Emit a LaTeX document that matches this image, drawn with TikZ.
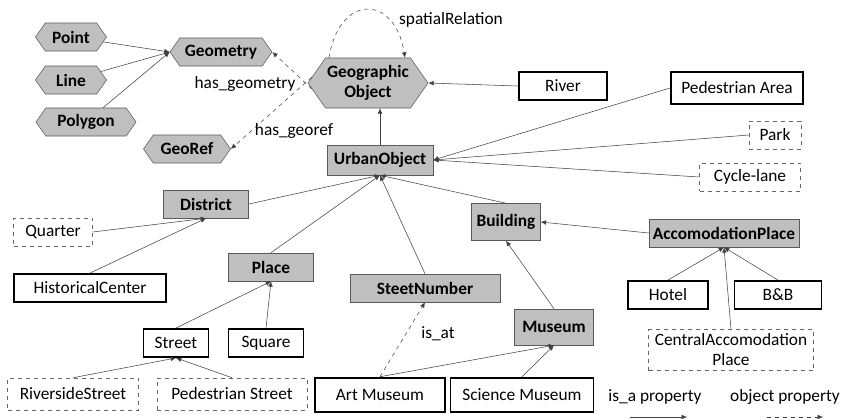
\documentclass[tikz,border=0pt]{standalone}
\usepackage{fontspec}
\setmainfont{Carlito}
\usetikzlibrary{shapes.symbols,arrows.meta,calc}
\begin{document}
\fontsize{13}{15}\selectfont
\begin{tikzpicture}[x=0.75pt,y=-0.75pt,
    cls/.style={draw=gray!70!black,fill=gray!50,font=\bfseries,inner sep=1pt,minimum height=21pt},
    hexa/.style={cls,signal,signal to=west and east,signal pointer angle=110},
    inst/.style={draw,line width=1.4pt,fill=white,inner sep=1pt,minimum height=21pt},
    ext/.style={draw=gray!80!black,dashed,inner sep=1pt,minimum height=21pt},
    w/.style={minimum width=#1*0.75pt},
    isa/.style={draw=black!75,-{Latex[length=4pt,width=3.5pt]}},
    objp/.style={isa,dashed},
    lbl/.style={inner sep=0pt}]
    \useasboundingbox (0,0) rectangle (844,419);
    % geometry part
    \node[hexa,w=71] (point) at (71,37) {Point};
    \node[hexa,w=71] (line) at (71,80) {Line};
    \node[hexa,w=100] (polygon) at (86,122) {Polygon};
    \node[hexa,w=102] (geometry) at (221,52) {Geometry};
    \node[hexa,w=87] (georef) at (187,149) {GeoRef};
    \node[hexa,w=120,minimum height=37.5pt,align=center] (geo) at (368,83) {Geographic\\Object};
    \draw[isa] (point) -- (geometry.west);
    \draw[isa] (line) -- (geometry.west);
    \draw[isa] (polygon) -- (geometry.west);
    \draw[objp] (geo.186) -- (geometry.east);
    \draw[objp] (geo.174) -- (georef.east);
    \draw[objp] ($(geo.north)+(-39,0)$) .. controls +(10,-64) and +(-10,-64) .. ($(geo.north)+(37,0)$);
    \node[lbl] (hasgeom) at (245,84) {has\_geometry};
    \node[lbl] (hasgeoref) at (294,131) {has\_georef};
    \node[lbl] (spatial) at (451,20) {spatialRelation};
    % urban objects
    \node[inst,w=88] (river) at (563,86) {River};
    \node[cls,w=106,minimum height=22.5pt] (urban) at (380,160) {UrbanObject};
    \node[inst,w=132,minimum height=24pt] (pedarea) at (737,88) {Pedestrian Area};
    \node[ext,w=52] (park) at (775,135) {Park};
    \node[ext,w=101] (cycle) at (750,177) {Cycle-lane};
    \draw[isa] (river.west) -- (geo.east);
    \draw[isa] (urban.north) -- (urban.north |- geo.south);
    \draw[isa] (pedarea.west) -- (urban.east);
    \draw[isa] (park.west) -- (urban.east);
    \draw[isa] (cycle.west) -- (urban.east);
    % districts and places
    \node[cls,w=85] (district) at (206,204) {District};
    \node[ext,w=79] (quarter) at (53,232) {Quarter};
    \node[inst,w=152] (historic) at (90,288) {HistoricalCenter};
    \node[cls,w=85] (place) at (271,267) {Place};
    \node[inst,w=65] (street) at (176,343) {Street};
    \node[inst,w=75] (square) at (266,343) {Square};
    \node[ext,w=131,minimum height=24pt] (riverside) at (73,394) {RiversideStreet};
    \node[ext,w=150,minimum height=24pt] (pedstreet) at (232,394) {Pedestrian Street};
    \draw[isa] (district.east) -- (urban.south);
    \draw[isa] (place.north) -- (urban.south);
    \draw[isa] (quarter.east) -- (district.south);
    \draw[isa] (historic.north) -- (district.south);
    \draw[isa] (street.north) -- (place.south);
    \draw[isa] (square.north) -- (place.south);
    \draw[isa] (riverside.north) -- (street.south);
    \draw[isa] (pedstreet.north) -- (street.south);
    % buildings
    \node[cls,w=150] (stnum) at (425,288) {SteetNumber};
    \node[cls,w=69,minimum height=27.75pt] (building) at (506,222) {Building};
    \node[cls,w=79,minimum height=27pt] (museum) at (554,327) {Museum};
    \node[inst,w=130,minimum height=26pt] (artmus) at (380,395) {Art Museum};
    \node[inst,w=143,minimum height=26pt] (scimus) at (522,395) {Science Museum};
    \node[cls,w=150] (acc) at (724,233) {AccomodationPlace};
    \node[inst,w=80] (hotel) at (668,295) {Hotel};
    \node[inst,w=87] (bnb) at (778,295) {B\&B};
    \node[ext,w=165,minimum height=30.75pt,align=center,inner sep=0pt] (central) at (731,350) {CentralAccomodation\\Place};
    \draw[isa] (stnum.north) -- (urban.south);
    \draw[isa] (building.north) -- (urban.south);
    \draw[isa] (acc.west) -- (building.east);
    \draw[isa] (museum.north) -- (building.south);
    \draw[isa] (artmus.north) -- (museum.south);
    \draw[isa] (scimus.north) -- (museum.south);
    \draw[objp] (artmus.north) -- (stnum.south);
    \node[lbl] (isat) at (438,334) {is\_at};
    \draw[isa] (hotel.north) -- (acc.south);
    \draw[isa] (bnb.north) -- (acc.south);
    \draw[isa] (central.north) -- (acc.south);
    % legend
    \node[lbl] (isalbl) at (655,397) {is\_a property};
    \node[lbl] (objlbl) at (785,397) {object property};
    \coordinate (isaA) at (630,417);
    \coordinate (isaB) at (687,417);
    \coordinate (objA) at (767,417);
    \coordinate (objB) at (823,417);
    \draw[isa] (isaA) -- (isaB);
    \draw[objp] (objA) -- (objB);
\end{tikzpicture}
\end{document}
